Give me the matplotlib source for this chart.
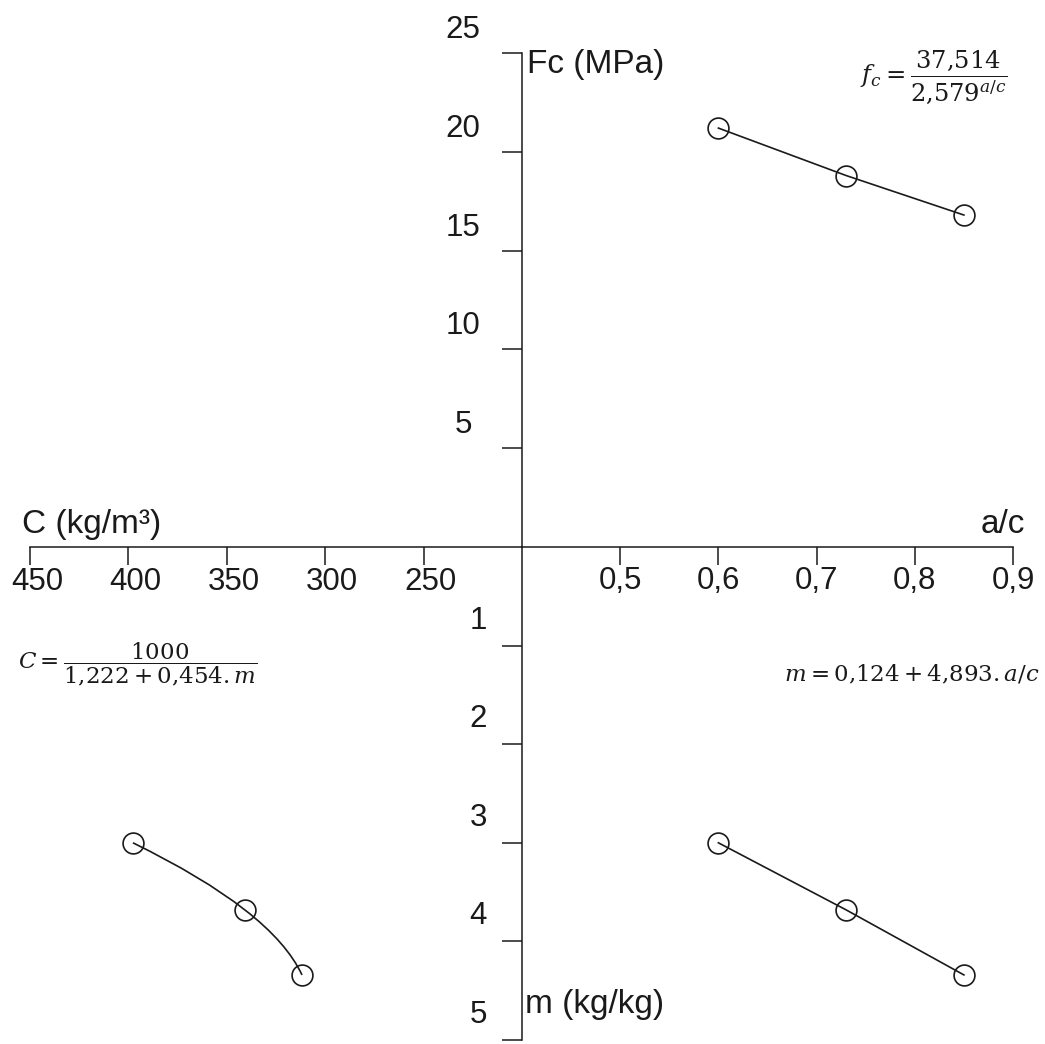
import numpy as np
import matplotlib.pyplot as plt
from matplotlib.path import Path
from matplotlib.patches import PathPatch

plt.rcParams['font.family'] = ['Liberation Sans', 'DejaVu Sans']
plt.rcParams['mathtext.fontset'] = 'dejavuserif'

ac = [0.60, 0.73, 0.85]          # a/c ratio
fc = [21.2, 18.8, 16.8]          # compressive strength (MPa)
m = [3.00, 3.68, 4.34]           # aggregate/cement (kg/kg)
cement = [397.7, 340.8, 311.8]   # cement content (kg/m3)

ac_ticks = [0.5, 0.6, 0.7, 0.8, 0.9]
ac_labels = ['0,5', '0,6', '0,7', '0,8', '0,9']
fc_ticks = [5, 10, 15, 20, 25]
m_ticks = [1, 2, 3, 4, 5]
c_ticks = [450, 400, 350, 300, 250]

eq_fc = r'$f_c = \dfrac{37{,}514}{2{,}579^{a/c}}$'
eq_c = r'$C = \dfrac{1000}{1{,}222 + 0{,}454.m}$'
eq_m = r'$m = 0{,}124 + 4{,}893.a/c$'

ink = '#1a1a1a'
W, H = 1045, 1044
fig = plt.figure(figsize=(W / 100, H / 100), dpi=100)


def px_rect(x0, y0, x1, y1):
    return [x0 / W, 1 - y1 / H, (x1 - x0) / W, (y1 - y0) / H]


ax_tr = fig.add_axes(px_rect(522, 53, 1013, 547))
ax_br = fig.add_axes(px_rect(522, 547, 1013, 1040))
ax_bl = fig.add_axes(px_rect(30, 547, 522, 1040))
ax_tl = fig.add_axes(px_rect(30, 53, 522, 547))

for ax in (ax_tr, ax_br, ax_bl, ax_tl):
    ax.patch.set_visible(False)
    for sp in ax.spines.values():
        sp.set_visible(False)
        sp.set_linewidth(1.1)
        sp.set_color(ink)
    ax.tick_params(colors=ink, width=1.1, labelsize=22.5, direction='out')

ax_tr.set_xlim(0.4, 0.9)
ax_tr.set_ylim(0, 25)
ax_br.set_xlim(0.4, 0.9)
ax_br.set_ylim(5, 0)
ax_bl.set_xlim(450, 200)
ax_bl.set_ylim(5, 0)
ax_tl.set_xlim(450, 200)
ax_tl.set_ylim(0, 1)

# vertical and horizontal axes through the centre
ax_tr.spines['left'].set_visible(True)
ax_tr.spines['bottom'].set_visible(True)
ax_br.spines['left'].set_visible(True)
ax_tl.spines['bottom'].set_visible(True)

ax_tr.set_xticks(ac_ticks, ac_labels)
ax_tr.tick_params(axis='x', length=13, pad=1)
ax_tr.set_yticks(fc_ticks)
ax_tr.tick_params(axis='y', length=14.4, labelleft=False)

ax_br.set_xticks([])
ax_br.set_yticks(m_ticks)
ax_br.tick_params(axis='y', length=14.4, labelleft=False)

ax_tl.set_xticks(c_ticks)
ax_tl.tick_params(axis='x', length=13, labelbottom=False)
ax_tl.set_yticks([])
ax_bl.set_xticks([])
ax_bl.set_yticks([])

# C labels sit a little right of their ticks
for v in c_ticks:
    ax_tl.annotate(str(v), (v, 0), xycoords=('data', 'axes fraction'),
                   xytext=(7, -19.5), textcoords='offset pixels',
                   ha='center', va='top', fontsize=22.5, color=ink)

# y tick labels sit above their ticks
for v in fc_ticks:
    ax_tr.annotate(str(v), (0, v), xycoords=('axes fraction', 'data'),
                   xytext=(-59, 23), textcoords='offset pixels',
                   ha='center', va='center', fontsize=22.5, color=ink)
for v in m_ticks:
    ax_br.annotate(str(v), (0, v), xycoords=('axes fraction', 'data'),
                   xytext=(-44, 25), textcoords='offset pixels',
                   ha='center', va='center', fontsize=22.5, color=ink)

# axis titles
ax_tr.annotate('Fc (MPa)', (0, 1), xycoords='axes fraction', xytext=(5, -20),
               textcoords='offset pixels', ha='left', va='baseline', fontsize=24, color=ink)
ax_br.annotate('m (kg/kg)', (0, 0), xycoords='axes fraction', xytext=(3, 27),
               textcoords='offset pixels', ha='left', va='baseline', fontsize=24, color=ink)
ax_tl.annotate('C (kg/m³)', (0, 0), xycoords='axes fraction', xytext=(-8, 14),
               textcoords='offset pixels', ha='left', va='baseline', fontsize=24, color=ink)
ax_tr.annotate('a/c', (1, 0), xycoords='axes fraction', xytext=(12, 14),
               textcoords='offset pixels', ha='right', va='baseline', fontsize=24, color=ink)

mk = dict(marker='o', ms=15, mfc='none', mec=ink, mew=1.2, clip_on=False)
ax_tr.plot(ac, fc, '-', color=ink, lw=1.2, **mk)
ax_br.plot(ac, m, '-', color=ink, lw=1.2, **mk)
ax_bl.plot(cement, m, 'none', **mk)

# smooth curve through the three cement points
pts = np.column_stack([cement, m])
ctrl = 2 * pts[1] - (pts[0] + pts[2]) / 2
curve = Path([pts[0], ctrl, pts[2]], [Path.MOVETO, Path.CURVE3, Path.CURVE3])
ax_bl.add_patch(PathPatch(curve, fc='none', ec=ink, lw=1.2, clip_on=False))

# equations
fig.text(1007 / W, 1 - 77 / H, eq_fc, ha='right', va='center', fontsize=17.5, color=ink)
fig.text(18 / W, 1 - 664 / H, eq_c, ha='left', va='center', fontsize=16.5, color=ink)
fig.text(1040 / W, 1 - 675 / H, eq_m, ha='right', va='center', fontsize=16.5, color=ink)

fig.savefig('out.png', dpi=100)
